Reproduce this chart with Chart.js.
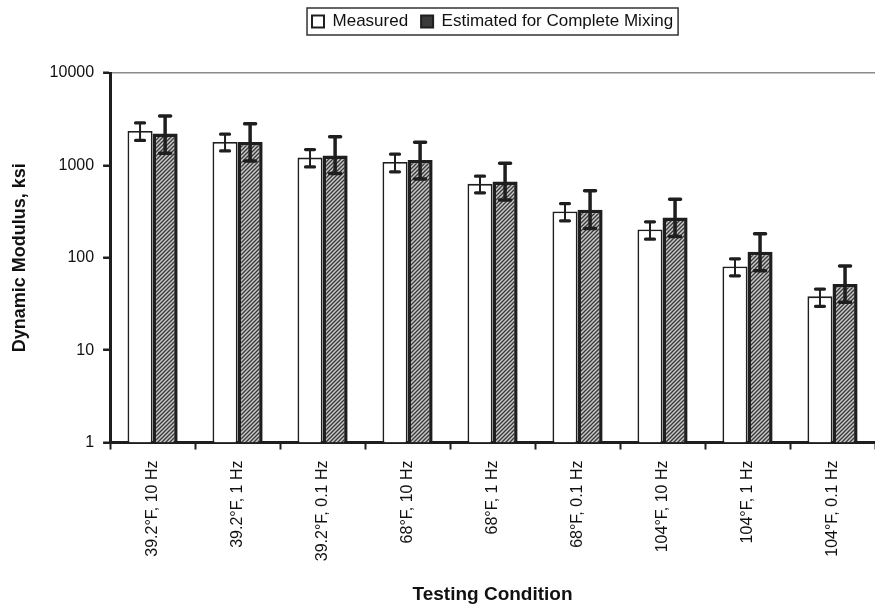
<!DOCTYPE html>
<html>
<head>
<meta charset="utf-8">
<script src="https://cdn.jsdelivr.net/npm/chart.js@4.4.1/dist/chart.umd.min.js"></script>
<style>
  html, body { margin: 0; padding: 0; background: #fff; }
  #wrap { width: 875px; height: 610px; position: relative; }
</style>
</head>
<body>
<div id="wrap"><canvas id="c" width="875" height="610"></canvas></div>
<script>
const categories = ['39.2°F, 10 Hz','39.2°F, 1 Hz','39.2°F, 0.1 Hz','68°F, 10 Hz','68°F, 1 Hz','68°F, 0.1 Hz','104°F, 10 Hz','104°F, 1 Hz','104°F, 0.1 Hz'];
const measured      = [2360, 1795, 1214, 1091, 631, 317, 202, 80.5, 38.2];
const measuredLow   = [1865, 1435,  963,  851, 504, 251, 159, 63.8, 29.8];
const measuredHigh  = [2880, 2175, 1483, 1322, 764, 386, 245, 97.5, 45.8];
const estimated     = [2207, 1795, 1276, 1146, 668, 330, 273, 116, 52];
const estimatedLow  = [1355, 1118,  815,  714, 421, 207, 170, 72.3, 32.9];
const estimatedHigh = [3430, 2830, 2047, 1782, 1056, 530, 431, 182, 81.3];
const yTicks = [1, 10, 100, 1000, 10000];

function makePattern() {
  const p = document.createElement('canvas');
  p.width = 4; p.height = 4;
  const g = p.getContext('2d');
  g.fillStyle = '#c8c8c8';
  g.fillRect(0, 0, 4, 4);
  g.strokeStyle = '#383838';
  g.lineWidth = 1.3;
  g.beginPath();
  g.moveTo(-1, 5); g.lineTo(5, -1);
  g.moveTo(-1, 1); g.lineTo(1, -1);
  g.moveTo(3, 5); g.lineTo(5, 3);
  g.stroke();
  return document.getElementById('c').getContext('2d').createPattern(p, 'repeat');
}
const hatch = makePattern();

const errorBars = {
  id: 'errorBars',
  afterDatasetsDraw(chart) {
    const ctx = chart.ctx;
    const y = chart.scales.y;
    const sets = [
      { low: measuredLow, high: measuredHigh, stem: 2, capW: 4.5, capT: 3.2 },
      { low: estimatedLow, high: estimatedHigh, stem: 3.5, capW: 5.5, capT: 3.5 }
    ];
    ctx.save();
    ctx.strokeStyle = '#1e1e1e';
    sets.forEach((s, di) => {
      const meta = chart.getDatasetMeta(di);
      meta.data.forEach((bar, i) => {
        const x = bar.x;
        const yl = y.getPixelForValue(s.low[i]);
        const yh = y.getPixelForValue(s.high[i]);
        ctx.lineCap = 'butt';
        ctx.lineWidth = s.stem;
        ctx.beginPath(); ctx.moveTo(x, yl); ctx.lineTo(x, yh); ctx.stroke();
        ctx.lineCap = 'round';
        ctx.lineWidth = s.capT;
        ctx.beginPath();
        ctx.moveTo(x - s.capW, yl); ctx.lineTo(x + s.capW, yl);
        ctx.moveTo(x - s.capW, yh); ctx.lineTo(x + s.capW, yh);
        ctx.stroke();
      });
    });
    ctx.restore();
  }
};

const legendBorder = {
  id: 'legendBorder',
  beforeInit(chart) {
    const lg = chart.legend;
    if (!lg) return;
    const orig = lg.fit;
    lg.fit = function () { orig.call(this); this.height += 33; };
  },
  afterDraw(chart) {
    const hb = chart.legend && chart.legend.legendHitBoxes;
    if (!hb || !hb.length) return;
    let l = Infinity, t = Infinity, r = -Infinity, b = -Infinity;
    hb.forEach(h => { l = Math.min(l, h.left); t = Math.min(t, h.top); r = Math.max(r, h.left + h.width); b = Math.max(b, h.top + h.height); });
    const ctx = chart.ctx;
    ctx.save();
    ctx.strokeStyle = '#333';
    ctx.lineWidth = 1.5;
    ctx.strokeRect(l - 5, t - 5, r - l + 10, b - t + 10);
    ctx.restore();
  }
};

new Chart(document.getElementById('c'), {
  type: 'bar',
  data: {
    labels: categories,
    datasets: [
      { label: 'Measured', data: measured, backgroundColor: '#ffffff', borderColor: '#1e1e1e', borderWidth: 1.8, borderSkipped: 'bottom' },
      { label: 'Estimated for Complete Mixing', data: estimated, backgroundColor: hatch, borderColor: '#1e1e1e', borderWidth: 3.5, borderSkipped: 'bottom' }
    ]
  },
  options: {
    responsive: false,
    animation: false,
    devicePixelRatio: 1,
    layout: { padding: { left: 5, right: -6, top: 0, bottom: 2 } },
    datasets: { bar: { categoryPercentage: 0.59, barPercentage: 1.0 } },
    plugins: {
      tooltip: { enabled: false },
      legend: {
        position: 'top',
        fullSize: false,
        labels: {
          font: { family: 'Liberation Sans, Arial, sans-serif', size: 17 },
          color: '#111',
          boxWidth: 12,
          boxHeight: 12,
          padding: 13,
          generateLabels(chart) {
            return chart.data.datasets.map((ds, i) => ({
              text: ds.label,
              fillStyle: i === 0 ? '#ffffff' : '#3a3a3a',
              strokeStyle: '#1e1e1e',
              lineWidth: 2,
              hidden: false,
              datasetIndex: i,
              fontColor: '#111'
            }));
          }
        }
      }
    },
    scales: {
      x: {
        type: 'category',
        offset: true,
        grid: { display: true, offset: true, color: 'rgba(0,0,0,0)', tickColor: '#1e1e1e', tickLength: 7, tickWidth: 2 },
        border: { display: true, color: '#1e1e1e', width: 3 },
        ticks: {
          minRotation: 90, maxRotation: 90, autoSkip: false, padding: 11,
          color: '#111', font: { family: 'Liberation Sans, Arial, sans-serif', size: 16 }
        },
        title: {
          display: true, text: 'Testing Condition', color: '#111',
          font: { family: 'Liberation Sans, Arial, sans-serif', size: 19, weight: 'bold' },
          padding: { top: 11, bottom: 2 }
        }
      },
      y: {
        type: 'logarithmic',
        min: 1, max: 10000,
        afterBuildTicks(axis) { axis.ticks = yTicks.map(v => ({ value: v })); },
        grid: {
          display: true,
          color: ctx => (ctx.tick && ctx.tick.value === 10000) ? '#8a8a8a' : 'rgba(0,0,0,0)',
          lineWidth: 1.5,
          tickColor: '#1e1e1e', tickLength: 7, tickWidth: 2.5
        },
        border: { display: true, color: '#1e1e1e', width: 3 },
        ticks: {
          padding: 9, color: '#111',
          font: { family: 'Liberation Sans, Arial, sans-serif', size: 16 },
          callback: v => String(v)
        },
        title: {
          display: true, text: 'Dynamic Modulus, ksi', color: '#111',
          font: { family: 'Liberation Sans, Arial, sans-serif', size: 18, weight: 'bold' },
          padding: { top: 4, bottom: 10 }
        }
      }
    }
  },
  plugins: [errorBars, legendBorder]
});
</script>
</body>
</html>
